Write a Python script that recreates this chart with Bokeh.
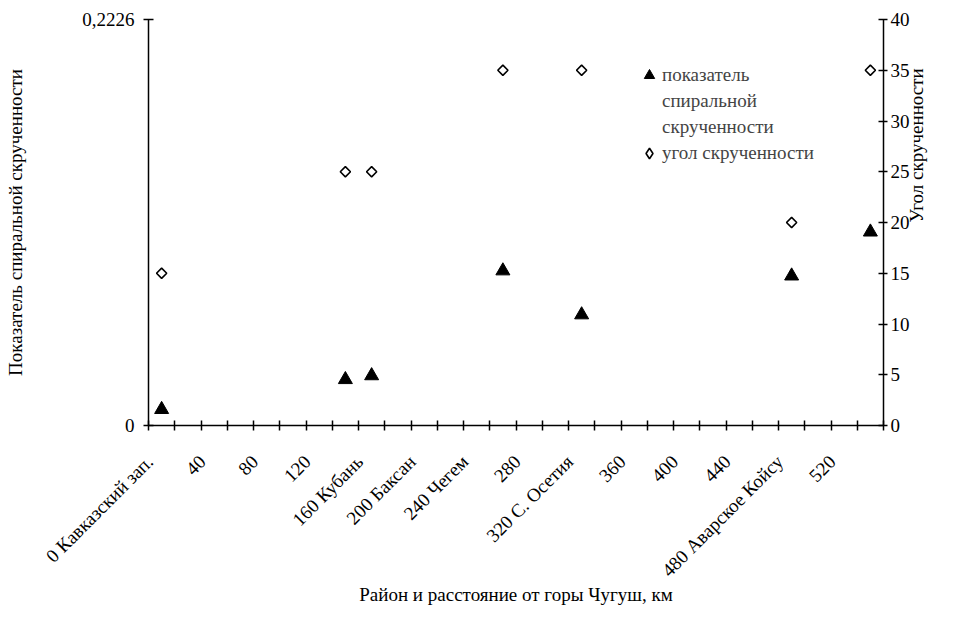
import math
from bokeh.plotting import figure
from bokeh.models import Range1d, LinearAxis, FixedTicker, Legend, LegendItem
from bokeh.embed import file_html
from bokeh.resources import INLINE

# ---- data ----
km = [0, 140, 160, 260, 320, 480, 540]
spiral_index = [0.0088, 0.0252, 0.0273, 0.0848, 0.0607, 0.0820, 0.1061]
twist_angle = [15, 25, 25, 35, 35, 20, 35]

x_label_ticks = [0, 40, 80, 120, 160, 200, 240, 280, 320, 360, 400, 440, 480, 520]
x_label_names = {0: "Кавказский зап.", 160: "Кубань", 200: "Баксан",
                 240: "Чегем", 320: "С. Осетия", 480: "Аварское Койсу"}
category_step = 20
n_categories = 28
left_ticks = [0, 0.2226]
left_tick_text = {0: "0", 0.2226: "0,2226"}
right_ticks = [0, 5, 10, 15, 20, 25, 30, 35, 40]
legend_lines = ["показатель", "спиральной", "скрученности", "угол скрученности"]

FONT = "Liberation Serif"
FS = "19px"
LABEL_SHIFT = 9  # rotated labels sit slightly left of their category centre

x_start = -category_step / 2
x_end = x_start + n_categories * category_step
bounds = [x_start + i * category_step for i in range(n_categories + 1)]
label_pos = [v - LABEL_SHIFT for v in x_label_ticks]
label_text = {v - LABEL_SHIFT: (f"{v} {x_label_names[v]}" if v in x_label_names else str(v))
              for v in x_label_ticks}

p = figure(width=940, height=608, output_backend="svg", toolbar_location=None,
           x_range=Range1d(x_start, x_end), y_range=Range1d(0, 0.2226),
           min_border_left=148, min_border_right=48, min_border_top=19, min_border_bottom=182)
p.extra_y_ranges = {"angle": Range1d(0, 40)}
p.outline_line_color = None
p.xgrid.visible = False
p.ygrid.visible = False
p.background_fill_color = "white"
p.border_fill_color = "white"

def style_axis(ax):
    ax.axis_line_color = "black"
    ax.axis_line_width = 1.5
    ax.major_tick_line_color = "black"
    ax.major_tick_line_width = 1.5
    ax.minor_tick_line_color = "black"
    ax.minor_tick_line_width = 1.5
    ax.major_label_text_font = FONT
    ax.major_label_text_font_size = FS
    ax.major_label_text_color = "black"
    ax.axis_label_text_font = FONT
    ax.axis_label_text_font_size = FS
    ax.axis_label_text_font_style = "normal"
    ax.axis_label_text_color = "black"

# bottom axis
xa = p.xaxis[0]
style_axis(xa)
xa.ticker = FixedTicker(ticks=label_pos, minor_ticks=bounds)
xa.major_label_overrides = label_text
xa.major_label_orientation = math.pi / 4
xa.major_tick_in = 0
xa.major_tick_out = 0
xa.minor_tick_in = 5
xa.minor_tick_out = 5
xa.major_label_standoff = 28
xa.axis_label = "Район и расстояние от горы Чугуш, км"
xa.axis_label_standoff = -7

# left axis
ya = p.yaxis[0]
style_axis(ya)
ya.ticker = FixedTicker(ticks=left_ticks, minor_ticks=[])
ya.major_label_overrides = left_tick_text
ya.major_tick_in = 5
ya.major_tick_out = 5
ya.major_label_standoff = 9
ya.axis_label = "Показатель спиральной скрученности"
ya.axis_label_standoff = 53

# right axis
ra = LinearAxis(y_range_name="angle", ticker=FixedTicker(ticks=right_ticks, minor_ticks=[]))
style_axis(ra)
ra.major_tick_in = 5
ra.major_tick_out = 4
ra.major_label_standoff = 3
ra.axis_label = "Угол скрученности"
ra.axis_label_standoff = 4
ra.axis_label_text_line_height = 0.8
ra.axis_label_orientation = math.pi / 2
p.add_layout(ra, "right")

tri = p.scatter(km, spiral_index, marker="triangle", size=14,
                fill_color="black", line_color="black", line_width=1)
dia = p.scatter(km, twist_angle, y_range_name="angle", marker="square", angle=math.pi / 4,
                size=7.2, fill_color="white", line_color="black", line_width=1.6)

# legend helpers: blank glyph for continuation lines; zero-size diamond used only as legend swatch
blank = p.scatter(x=[], y=[], marker="circle", fill_alpha=0, line_alpha=0)
leg_dia = p.scatter(km, twist_angle, y_range_name="angle", marker="diamond", size=0,
                    fill_color="white", line_color="black", line_width=1.6)

legend = Legend(items=[LegendItem(label=legend_lines[0], renderers=[tri]),
                       LegendItem(label=legend_lines[1], renderers=[blank]),
                       LegendItem(label=legend_lines[2], renderers=[blank]),
                       LegendItem(label=legend_lines[3], renderers=[leg_dia])],
                location=(488, 259), border_line_color=None, background_fill_alpha=0,
                label_text_font=FONT, label_text_font_size=FS, label_text_line_height=1.0,
                glyph_width=26, glyph_height=26, label_standoff=0, padding=0, spacing=0, margin=0)
p.add_layout(legend)

open("out.html", "w").write(file_html(p, INLINE))
